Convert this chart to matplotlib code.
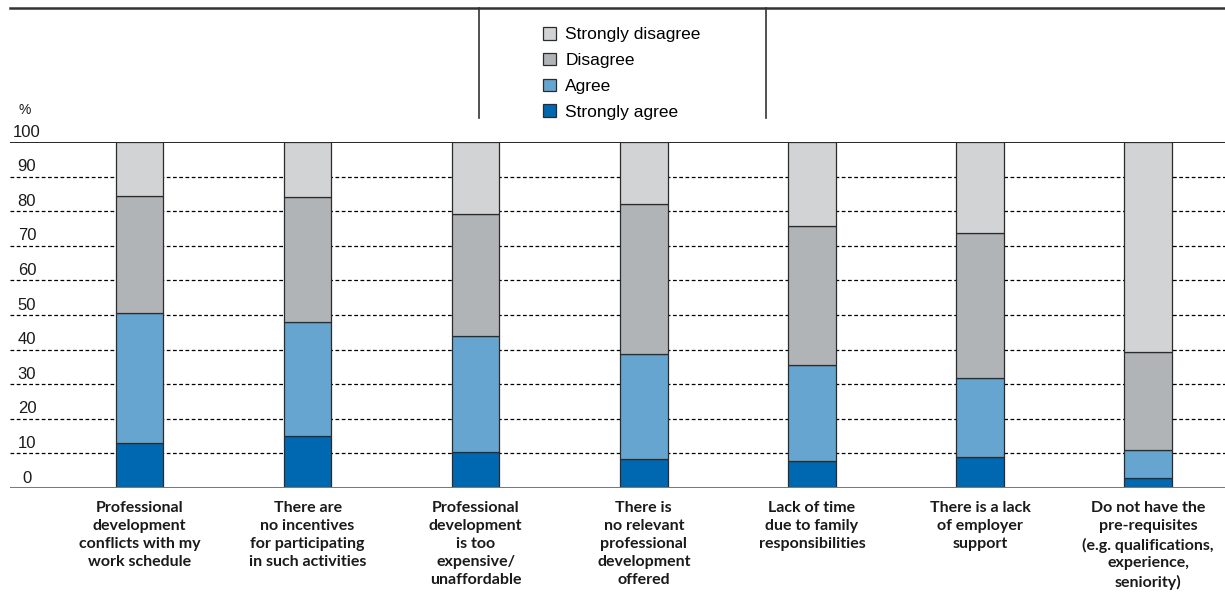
import matplotlib
matplotlib.use("Agg")
import matplotlib.pyplot as plt
import matplotlib.transforms as mtransforms
from matplotlib.patches import Patch
from matplotlib.lines import Line2D
import numpy as np

# ── Datos (%) ─────────────────────────────────────────────────────────────────
CATEGORIAS = [
    "Professional\ndevelopment\nconflicts with my\nwork schedule",
    "There are\nno incentives\nfor participating\nin such activities",
    "Professional\ndevelopment\nis too\nexpensive/\nunaffordable",
    "There is\nno relevant\nprofessional\ndevelopment\noffered",
    "Lack of time\ndue to family\nresponsibilities",
    "There is a lack\nof employer\nsupport",
    "Do not have the\npre-requisites\n(e.g. qualifications,\nexperience,\nseniority)",
]
strongly_agree    = [12.9, 15.1, 10.3, 8.4, 7.8, 8.9, 2.9]
agree             = [37.6, 33.0, 33.5, 30.4, 27.8, 22.8, 8.2]
disagree          = [33.8, 35.9, 35.3, 43.3, 40.1, 41.9, 28.3]
strongly_disagree = [15.7, 16.0, 20.9, 17.9, 24.3, 26.4, 60.6]

SERIES  = ["Strongly agree", "Agree", "Disagree", "Strongly disagree"]
COLORES = ["#0067b1", "#66a5d0", "#b1b4b7", "#d1d3d5"]
Y_TICKS = list(range(0, 101, 10))

FONT_REG = ["Liberation Sans", "DejaVu Sans"]
FONT_CAT = ["Lato", "DejaVu Sans"]

W, H = 1225, 593
fig = plt.figure(figsize=(W / 100, H / 100), dpi=100)
ax = fig.add_axes([10 / W, 1 - 488 / H, 1 - 10 / W, (488 - 142) / H])

x = np.arange(len(CATEGORIAS))
ancho = 0.283
base = np.zeros(len(x))
for nombre, vals, color in zip(SERIES, [strongly_agree, agree, disagree, strongly_disagree], COLORES):
    ax.bar(x, vals, ancho, bottom=base, color=color, edgecolor="#2b2b2b",
           linewidth=0.9, zorder=3, label=nombre)
    base += np.array(vals)

ax.set_xlim(-0.770, 6.457)
ax.set_ylim(0, 100)

# rejilla
for y in Y_TICKS[1:-1]:
    ax.axhline(y, color="black", linestyle=(0, (3, 2)), linewidth=0.9, zorder=1)
ax.axhline(100, color="black", linewidth=1.2, zorder=2)
ax.axhline(0, color="#7a7a7a", linewidth=2.2, zorder=4)

for s in ax.spines.values():
    s.set_visible(False)
ax.set_xticks([])
ax.set_yticks([])

# etiquetas eje Y encima de cada línea
trans = mtransforms.blended_transform_factory(fig.transFigure, ax.transData)
for y in Y_TICKS:
    ax.text(27 / W, y + 0.7, str(y), transform=trans, ha="center", va="bottom",
            fontsize=12, family=FONT_REG, color="#1a1a1a")
fig.text(25 / W, 1 - 110 / H, "%", ha="center", va="center",
         fontsize=10, family=FONT_REG, color="#1a1a1a")

# etiquetas de categorías
for xi, lab in zip(x, CATEGORIAS):
    ax.text(xi, -3.9, lab, ha="center", va="top", fontsize=11.5, fontweight="bold",
            family=FONT_CAT, linespacing=1.35, color="#1a1a1a")

# marco superior de la leyenda
fig.add_artist(Line2D([10 / W, 1], [1 - 8 / H] * 2, color="#333333", linewidth=1.8))
for xv in (479, 766):
    fig.add_artist(Line2D([xv / W] * 2, [1 - 8 / H, 1 - 118 / H], color="#333333", linewidth=1.2))

handles = [Patch(facecolor=c, edgecolor="#2b2b2b", linewidth=0.9, label=n)
           for n, c in zip(SERIES, COLORES)][::-1]
fig.legend(handles=handles, loc="upper left", bbox_to_anchor=(529 / W, 1 - 13 / H),
           frameon=False, prop={"family": FONT_REG, "size": 12.5},
           handlelength=0.75, handleheight=0.75, handletextpad=0.55,
           labelspacing=0.6, borderpad=0.3)

fig.savefig("out.png", dpi=100)
